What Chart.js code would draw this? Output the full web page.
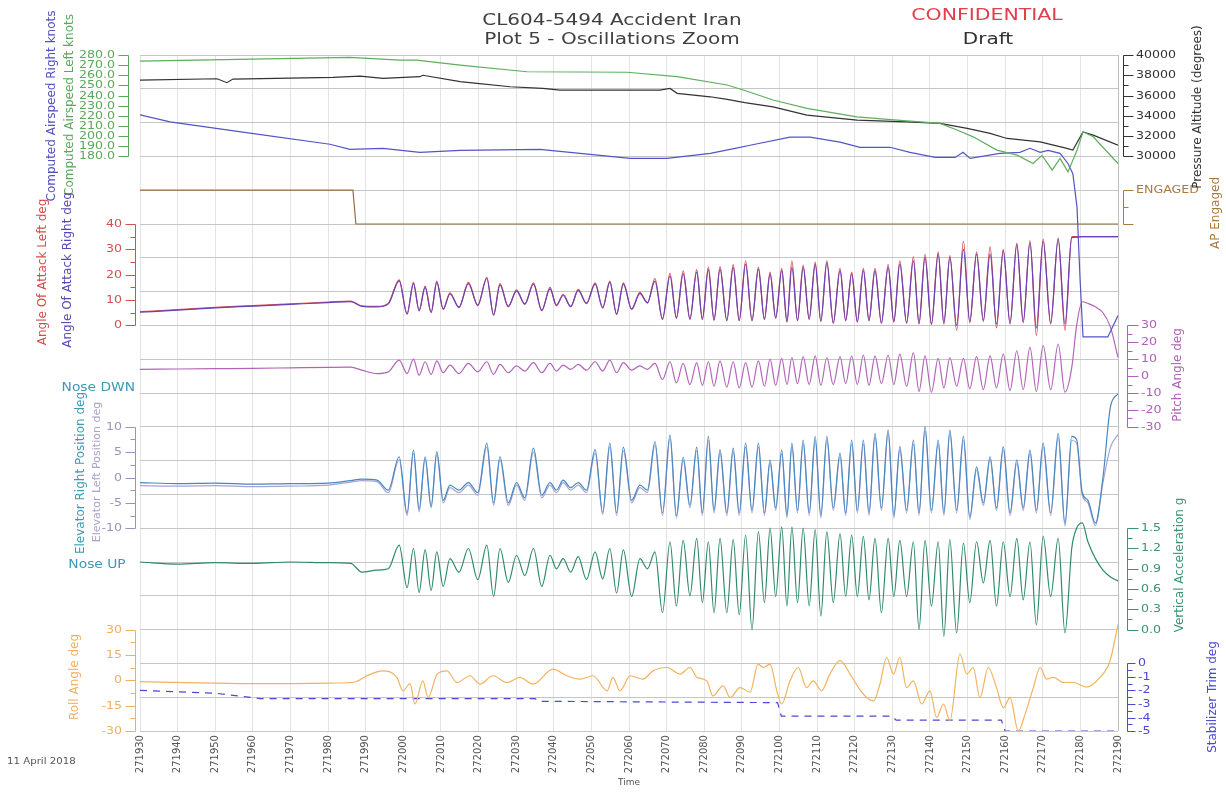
<!DOCTYPE html>
<html><head><meta charset="utf-8">
<script src="https://cdn.jsdelivr.net/npm/chart.js@4.4.1/dist/chart.umd.min.js"></script>
<style>html,body{margin:0;padding:0;background:#fff;}canvas{display:block;}</style>
</head><body>
<canvas id="c" width="1226" height="792"></canvas>
<script>
// ---------- X axis tick labels ----------
const xTickVals = [271930,271940,271950,271960,271970,271980,271990,272000,272010,272020,272030,272040,272050,272060,272070,272080,272090,272100,272110,272120,272130,272140,272150,272160,272170,272180,272190];

// ---------- Y axis tick labels ----------
const asTicks = [280,270,260,250,240,230,220,210,200,190,180];
const altTicks = [40000,38000,36000,34000,32000,30000];
const apTicks = [1,0];
const apTickLabels = ['ENGAGED',''];
const aoaTicks = [40,30,20,10,0];
const pitchTicks = [30,20,10,0,-10,-20,-30];
const elevTicks = [10,5,0,-5,-10];
const accTicks = [1.5,1.2,0.9,0.6,0.3,0.0];
const rollTicks = [30,15,0,-15,-30];
const stabTicks = [0,-1,-2,-3,-4,-5];

// ---------- Top panel (slow parameters) ----------
const asLTime = [271930,271985.8,271999.1,272003.6,272015.1,272032.9,272059.5,272072.8,272086.1,272090.8,
  272098.3,272107.3,272120.6,272131.3,272142.7,272147.2,272151.5,272157.8,272163.2,272167.4,
  272169.8,272172.5,272174.6,272176.7,272179.1,272180.7,272183.4,272190];
const asLVal = [274,277.7,275,275,270,263.5,263,258.6,250.4,245,
  235.6,227.4,219,215.8,212.5,206,199.3,186.2,181.2,173,
  181,166.4,178,164.7,186,204.3,199.3,173];

const asRTime = [271930,271938,271959.2,271980.5,271985.8,271994.6,272004.4,272015.1,272036.3,272052.3,
  272060.3,272070.1,272081.6,272088.2,272092.2,272102.8,272108.1,272116.1,272121.4,272129.4,
  272134.7,272141.4,272146.7,272148.8,272150.7,272158.6,272163.9,272166.6,272169.3,272171.4,
  272174.6,272176.7,272178.0,272179.1,272179.9,272180.7,272187.3,272190];
const asRVal = [221,214,203,192,187,188,184,186,187,181,
  178,178,183,188,191,199,199,194,189,189,
  184,179,179,184,178,183,184,188,184,186,
  183,173,163,130,60,2,2,23];

const altTime = [271930,271950.5,271953.1,271954.7,271981.3,271988.5,271994.6,272004.4,272005.2,272015.1,
  272019.6,272028.4,272037.1,272041.7,272068.2,272070.9,272072.8,272081.6,272086.1,272090.8,
  272098.3,272107.3,272120.6,272133.9,272142.7,272149.9,272156.0,272160.5,272169.3,272176.4,
  272178.0,272180.7,272183.4,272190];
const altVal = [37530,37660,37270,37630,37800,37920,37700,37860,38000,37370,
  37200,36870,36710,36540,36540,36700,36220,35880,35630,35300,
  34890,34070,33580,33410,33250,32760,32270,31770,31440,30790,
  30620,32420,32100,31100];

const apTime = [271930,271986.6,271987.4,272190];
const apVal = [1,1,0,0];

// ---------- Oscillation time base (pre, peak/trough pairs, end) ----------
const oscTime = [
  271930,271940,271950,271960,271970,271980,271986,271989,271993,271996,
  271998.9,272001.0,272002.7,272004.2,272005.8,272007.4,272008.9,272010.6,272012.4,272014.8,
  272017.3,272019.8,272022.2,272024.0,272025.7,272027.9,272030.1,272032.3,272034.6,272036.8,
  272039.0,272040.7,272042.5,272044.5,272046.5,272048.7,272051.0,272053.0,272054.9,272056.7,
  272058.5,272060.7,272062.9,272064.9,272066.9,272068.9,272070.9,272072.6,272074.4,272076.2,
  272078.0,272079.5,272081.1,272082.6,272084.2,272086.0,272087.7,272089.3,272091.0,272092.7,
  272094.4,272096.0,272097.5,272099.0,272100.6,272102.0,272103.3,272104.8,272106.3,272107.9,
  272109.5,272111.0,272112.6,272114.3,272116.1,272117.6,272119.2,272120.7,272122.3,272123.8,
  272125.4,272127.1,272128.9,272130.4,272132.0,272133.8,272135.6,272137.1,272138.7,272140.4,
  272142.2,272143.7,272145.3,272147.1,272148.9,272150.6,272152.4,272154.2,272156.0,272157.7,
  272159.5,272161.3,272163.1,272164.8,272166.6,272168.3,272170.1,272172.1,272174.1,272175.9,
  272177.7,272179.0,272180.5,272182,272184,272186,272188,272190];

const aoaRVal = [
  5.2,6.0,6.9,7.6,8.3,9.0,9.4,7.5,7.3,8.5,
  17.6,4.6,16.5,5.9,15.0,5.2,17.0,6.5,12.4,7.2,
  16.5,8.0,18.5,4.2,16.0,7.5,13.5,8.5,16.3,6.0,
  14.4,8.0,11.8,7.5,13.7,8.8,16.3,7.0,17.0,4.5,
  16.3,6.5,12.5,9.0,17.5,2.6,19.5,3.0,20.3,2.6,
  21.0,2.6,22.0,2.2,22.2,2.0,22.9,2.0,24.2,2.0,
  22.2,2.5,20.3,3.0,21.6,1.5,22.9,2.0,22.9,2.5,
  24.2,1.8,24.8,1.0,21.6,2.0,20.3,1.5,21.6,2.0,
  21.6,1.0,22.9,1.5,24.2,1.0,25.5,0.8,26.8,0.5,
  28.1,1.0,26.8,0.0,30.0,1.5,28.1,2.0,28.1,0.5,
  29.4,1.0,32.0,1.5,32.7,-1.0,33.3,1.0,34.0,0.5,
  34.6,34.8,35.0,35.0,35.0,35.0,35.0,35.0];

const aoaLVal = [
  5.4,6.2,7.1,7.8,8.5,9.2,9.6,7.7,7.5,8.7,
  18.0,4.4,17.0,5.7,15.5,5.0,17.5,6.3,12.8,7.0,
  17.0,7.8,19.0,4.0,16.5,7.3,14.0,8.3,16.8,5.8,
  15.0,7.8,12.3,7.3,14.2,8.6,16.8,6.8,17.5,4.3,
  16.8,6.3,13.0,8.8,18.5,2.3,20.5,2.8,21.5,2.3,
  22.0,2.3,23.0,2.0,23.2,1.8,24.0,1.8,25.5,1.8,
  23.0,2.3,21.0,2.8,22.5,1.3,25.5,1.8,23.8,2.3,
  25.0,1.5,25.5,0.8,22.5,1.8,21.0,1.3,22.5,1.8,
  22.5,0.8,24.0,1.3,25.5,0.8,27.0,0.5,28.0,0.3,
  29.0,0.5,27.5,-2.0,33.3,1.0,29.0,1.5,31.0,-1.0,
  30.0,0.5,32.5,1.0,33.5,-4.0,34.0,0.5,34.5,-2.0,
  35.0,35.0,35.0,35.0,35.0,35.0,35.0,35.0];

const pitchVal = [
  4.0,4.2,4.4,4.6,4.9,5.2,5.3,3.5,1.5,2.5,
  9.5,1.5,10.0,0.5,8.5,1.0,9.0,2.0,6.5,1.5,
  7.5,2.5,8.5,1.0,7.0,2.0,6.0,3.0,8.0,2.0,
  7.5,3.0,6.5,4.0,7.0,3.5,8.5,3.0,9.5,2.0,
  8.0,3.5,6.0,4.0,7.5,-2.0,8.5,-4.0,7.5,-5.0,
  8.0,-5.5,8.5,-6.0,9.0,-6.5,8.5,-7.0,8.0,-6.5,
  9.0,-6.0,10.0,-5.5,10.5,-5.0,11.0,-4.5,11.5,-5.0,
  12.0,-5.5,11.0,-5.0,11.5,-4.5,12.0,-5.0,12.5,-5.5,
  12.0,-4.5,12.5,-5.0,13.0,-6.0,13.7,-9.0,12.0,-9.5,
  10.5,-7.0,11.0,-6.0,10.5,-7.5,11.5,-8.0,12.0,-7.0,
  13.0,-8.5,15.0,-8.0,17.0,-9.0,18.0,-8.0,19.0,-9.5,
  5.0,30.0,44.0,43.0,41.0,37.5,29.0,11.0];

const elevRVal = [
  -1.0,-1.2,-1.1,-1.3,-1.2,-1.1,-0.6,-0.3,-0.5,-2.5,
  4.1,-7.1,5.4,-6.3,4.1,-5.7,5.1,-4.5,-1.5,-2.5,
  -1.0,-3.0,6.8,-5.0,4.1,-5.0,-1.0,-4.0,5.8,-3.5,
  -1.0,-2.5,-0.5,-2.0,-1.0,-2.5,5.5,-6.9,6.8,-7.0,
  6.0,-4.5,-1.5,-2.5,7.1,-7.0,8.4,-7.5,4.0,-5.5,
  6.0,-7.0,8.1,-6.5,5.5,-7.0,5.8,-7.0,6.8,-6.5,
  6.8,-7.0,3.5,-6.0,5.4,-7.5,6.8,-6.5,7.4,-7.0,
  8.1,-7.5,8.1,-6.0,4.8,-7.0,7.4,-6.5,7.4,-7.0,
  8.7,-6.0,9.4,-7.5,6.1,-6.5,7.4,-7.0,10.1,-6.5,
  7.4,-7.0,9.4,-6.5,8.1,-7.8,2.1,-5.0,4.1,-6.0,
  6.1,-7.0,3.5,-6.0,5.4,-6.5,6.8,-7.0,8.7,-9.1,
  8.1,7.5,-3.0,-4.5,-9.0,0.0,14.0,16.5];

const elevLVal = [
  -1.6,-1.7,-1.6,-1.8,-1.7,-1.5,-0.9,-0.6,-0.8,-3.0,
  3.5,-7.5,4.8,-6.8,3.6,-6.0,4.5,-5.0,-2.0,-3.0,
  -1.5,-3.5,6.0,-5.5,3.5,-5.5,-1.5,-4.5,5.0,-4.0,
  -1.5,-3.0,-1.0,-2.5,-1.5,-3.0,4.8,-7.3,6.0,-7.5,
  5.3,-5.0,-2.0,-3.0,6.4,-7.5,7.6,-8.0,3.4,-6.0,
  5.3,-7.5,7.3,-7.0,4.8,-7.5,5.1,-7.5,6.0,-7.0,
  6.0,-7.5,2.8,-6.5,4.7,-8.0,6.0,-7.0,6.6,-7.5,
  7.3,-8.0,7.3,-6.5,4.1,-7.5,6.6,-7.0,6.6,-7.5,
  7.9,-6.5,8.6,-8.0,5.4,-7.0,6.6,-7.5,9.2,-7.0,
  6.6,-7.5,8.6,-7.0,7.3,-8.3,1.5,-5.5,3.5,-6.5,
  5.4,-7.5,2.8,-6.5,4.7,-7.0,6.0,-7.5,7.9,-9.6,
  7.3,6.8,-3.5,-5.0,-9.5,-1.0,6.0,8.5];

const accVal = [
  1.0,0.97,0.99,0.98,1.0,0.99,0.98,0.85,0.88,0.9,
  1.25,0.62,1.2,0.55,1.18,0.58,1.15,0.64,1.05,0.85,
  1.2,0.74,1.25,0.49,1.2,0.7,1.1,0.8,1.2,0.64,
  1.1,0.9,1.05,0.85,1.08,0.74,1.15,0.75,1.2,0.54,
  1.18,0.49,1.05,0.9,1.15,0.25,1.3,0.35,1.32,0.5,
  1.35,0.4,1.3,0.25,1.35,0.25,1.33,0.22,1.4,0.0,
  1.45,0.40,1.5,0.49,1.52,0.35,1.52,0.40,1.5,0.35,
  1.48,0.20,1.45,0.40,1.42,0.49,1.4,0.49,1.38,0.44,
  1.35,0.25,1.35,0.49,1.32,0.49,1.3,0.0,1.32,0.35,
  1.3,-0.1,1.33,-0.05,1.28,0.40,1.3,0.69,1.32,0.35,
  1.3,0.49,1.35,0.44,1.3,0.07,1.38,0.49,1.35,-0.05,
  1.2,1.5,1.58,1.3,1.05,0.88,0.78,0.72];

// ---------- Roll & stabilizer ----------
const rollTime = [
  271930,271946,271962,271980.5,271987.2,271990.3,271994.6,271998.3,271999.9,272001.8,
  272003.1,272005.2,272006.6,272009.0,272011.6,272014.3,272017.7,272020.4,272023.8,272027.6,
  272031.0,272034.5,272039.8,272043.5,272047.0,272050.4,272054.2,272055.7,272057.6,272060.3,
  272063.7,272066.4,272070.1,272073.6,272076.2,272078.1,272080.7,272082.3,272085.0,272086.9,
  272089.5,272092.2,272094.3,272095.7,272097.5,272099.3,272100.6,272102.8,272105.0,272107.2,
  272109.0,272111.2,272113.4,272116.1,272118.8,272121.0,272123.2,272125.0,272126.7,272128.5,
  272130.3,272132.0,272133.8,272135.6,272137.8,272140.0,272141.8,272143.6,272145.3,272148.0,
  272149.8,272151.5,272153.3,272155.5,272157.7,272159.5,272161.3,272163.5,272165.3,272167.5,
  272169.3,272171.0,272172.8,272175.5,272178.1,272181.7,272185.2,272187.9,272190];
const rollVal = [
  -0.8,-1.5,-2.0,-1.6,-1.0,2.7,5.6,1.7,-6.2,-2.0,
  -14.0,-0.3,-10.2,3.7,5.6,-1.3,2.7,-2.3,2.7,-1.3,
  1.7,-2.3,6.6,2.7,0.7,2.7,-6.2,1.7,-6.2,2.7,
  0.7,5.6,7.6,3.7,7.6,1.7,-0.3,-9.2,-3.3,-10.2,
  -4.3,-7.0,9.6,7.6,9.6,-6.2,-14.0,-0.3,7.6,-4.3,
  -0.3,-6.2,3.7,11.6,3.7,-4.3,-10.2,-12.2,-2.3,13.5,
  3.7,13.5,-4.3,-0.3,-14.0,-6.2,-22.0,-14.0,-24.0,15.6,
  3.7,7.6,-10.2,7.6,-4.3,-16.2,-10.2,-30.0,-20.0,-4.3,
  7.6,0.7,1.7,-1.3,-1.3,-4.0,1.7,11.6,33.0];

const stabTime = [271930,271950,271962,272035,272036,272099.5,272100.5,272130,272131,272159,272160,272190];
const stabVal = [-2.0,-2.2,-2.6,-2.6,-2.8,-2.9,-3.9,-3.9,-4.2,-4.2,-5.0,-5.0];

// ---------- helpers ----------
Chart.defaults.font.family = "'DejaVu Sans', Verdana, sans-serif";
const NGRID = 20;
function band(vTop, iTop, vBot, iBot) {
  const s = (vTop - vBot) / (iBot - iTop);
  return { type: 'linear', display: false, min: vBot - (NGRID - iBot) * s, max: vTop + iTop * s };
}
function pts(t, v) { return t.map((x, i) => ({ x: x, y: v[i] })); }
function ds(label, t, v, axis, color, extra) {
  return Object.assign({ label, data: pts(t, v), yAxisID: axis, borderColor: color, backgroundColor: color,
    borderWidth: 1.2, pointRadius: 0, fill: false, tension: 0 }, extra || {});
}
const smooth = { cubicInterpolationMode: 'monotone' };

const C = {
  asL: '#5fae5f', asR: '#5454c8', alt: '#333333', ap: '#9c6c3c',
  aoaL: '#e04a4a', aoaR: '#6444bc', pitch: '#b264b8', elevR: '#4888c0', elevL: '#a4a4d4',
  acc: '#2f8a6c', roll: '#f2b25e', stab: '#4a4ad2'
};

const axisDefs = [
  { id: 'yAS', side: 'left', x: 128, len: 10, ticks: asTicks, fmt: v => v.toFixed(1), minor: false, color: '#5aa85a' },
  { id: 'yAOA', side: 'left', x: 135, len: 10, ticks: aoaTicks, fmt: v => String(v), minor: true, color: '#d45050' },
  { id: 'yElev', side: 'left', x: 135, len: 10, ticks: elevTicks, fmt: v => String(v), minor: true, color: '#9a94b8' },
  { id: 'yRoll', side: 'left', x: 135, len: 10, ticks: rollTicks, fmt: v => String(v), minor: true, color: '#f0b060' },
  { id: 'yAlt', side: 'right', x: 1123, len: 10, ticks: altTicks, fmt: v => String(v), minor: true, color: '#333333' },
  { id: 'yAP', side: 'right', x: 1123, len: 10, ticks: apTicks, fmt: (v, i) => apTickLabels[i], minor: true, color: '#a87a40' },
  { id: 'yPitch', side: 'right', x: 1127, len: 11, ticks: pitchTicks, fmt: v => String(v), minor: true, color: '#b060b8' },
  { id: 'yAcc', side: 'right', x: 1127, len: 11, ticks: accTicks, fmt: v => v.toFixed(1), minor: true, color: '#3a9470' },
  { id: 'yStab', side: 'right', x: 1127, len: 8, ticks: stabTicks, fmt: v => String(v), minor: true, color: '#4a4ad2' }
];

const sideTitles = [
  { text: 'Computed Airspeed Right knots', x: 52, y: 106, color: '#5050c0' },
  { text: 'Computed Airspeed Left knots', x: 70, y: 105, color: '#5aa85a' },
  { text: 'Angle Of Attack Left deg', x: 43, y: 272, color: '#d84a4a' },
  { text: 'Angle Of Attack Right deg', x: 68, y: 270, color: '#5a46b4' },
  { text: 'Elevator Right Position deg', x: 81, y: 473, color: '#3c9ab4' },
  { text: 'Elevator Left Position deg', x: 97, y: 472, color: '#aaa2ca', size: 11 },
  { text: 'Roll Angle deg', x: 75, y: 677, color: '#f0b060' },
  { text: 'Pressure Altitude (degrees)', x: 1198, y: 107, color: '#333333' },
  { text: 'AP Engaged', x: 1216, y: 213, color: '#a87a40' },
  { text: 'Pitch Angle deg', x: 1178, y: 375, color: '#b060b8' },
  { text: 'Vertical Acceleration g', x: 1180, y: 565, color: '#3a9470' },
  { text: 'Stabilizer Trim deg', x: 1213, y: 697, color: '#4a4ad2' }
];

function hText(ctx, text, x, y, align, font, color, sx) {
  ctx.save();
  ctx.translate(x, y);
  ctx.scale(sx || 1.2, 1);
  ctx.font = font; ctx.fillStyle = color; ctx.textAlign = align; ctx.textBaseline = 'middle';
  ctx.fillText(text, 0, 0);
  ctx.restore();
}

const decor = {
  id: 'decor',
  afterDraw(chart) {
    const ctx = chart.ctx;
    const ca = chart.chartArea;
    ctx.save();
    ctx.strokeStyle = '#bdbdbd'; ctx.lineWidth = 1;
    ctx.beginPath(); ctx.moveTo(Math.round(ca.right) + 0.5, ca.top); ctx.lineTo(Math.round(ca.right) + 0.5, ca.bottom); ctx.stroke();
    ctx.restore();
    axisDefs.forEach(d => {
      const s = chart.scales[d.id];
      const dir = d.side === 'left' ? -1 : 1;
      const ys = d.ticks.map(v => Math.round(s.getPixelForValue(v)) + 0.5);
      const y0 = Math.min(...ys), y1 = Math.max(...ys);
      ctx.save();
      ctx.strokeStyle = d.color; ctx.lineWidth = 1;
      ctx.beginPath();
      ctx.moveTo(d.x + 0.5, y0); ctx.lineTo(d.x + 0.5, y1);
      ys.forEach(y => { ctx.moveTo(d.x + 0.5, y); ctx.lineTo(d.x + 0.5 + dir * d.len, y); });
      if (d.minor) {
        for (let i = 1; i < d.ticks.length; i++) {
          const y = Math.round(s.getPixelForValue((d.ticks[i] + d.ticks[i - 1]) / 2)) + 0.5;
          ctx.moveTo(d.x + 0.5, y); ctx.lineTo(d.x + 0.5 + dir * 5, y);
        }
      }
      ctx.stroke();
      ctx.restore();
      d.ticks.forEach((v, i) => {
        const lbl = d.fmt(v, i);
        if (!lbl) return;
        hText(ctx, lbl, d.x + dir * (d.len + 3), ys[i], d.side === 'left' ? 'right' : 'left', '10.5px "DejaVu Sans"', d.color, 1.2);
      });
    });
    sideTitles.forEach(t => {
      ctx.save();
      ctx.translate(t.x, t.y);
      ctx.rotate(-Math.PI / 2);
      ctx.font = (t.size || 12) + 'px "DejaVu Sans"';
      ctx.fillStyle = t.color; ctx.textAlign = 'center'; ctx.textBaseline = 'middle';
      ctx.fillText(t.text, 0, 0);
      ctx.restore();
    });
    hText(ctx, 'CL604-5494 Accident Iran', 612, 21, 'center', '16px "DejaVu Sans"', '#404040', 1.25);
    hText(ctx, 'Plot 5 - Oscillations Zoom', 612, 40, 'center', '16px "DejaVu Sans"', '#404040', 1.25);
    hText(ctx, 'CONFIDENTIAL', 987, 16, 'center', '16px "DejaVu Sans"', '#e0404c', 1.28);
    hText(ctx, 'Draft', 988, 40, 'center', '16px "DejaVu Sans"', '#303030', 1.25);
    hText(ctx, 'Nose DWN', 135, 388, 'right', '11.5px "DejaVu Sans"', '#3c9ab4', 1.2);
    hText(ctx, 'Nose UP', 97, 565, 'center', '11.5px "DejaVu Sans"', '#3c9ab4', 1.2);
    hText(ctx, '11 April 2018', 7, 762, 'left', '8.5px "DejaVu Sans"', '#555555', 1.2);
  }
};

const chart = new Chart(document.getElementById('c'), {
  type: 'line',
  data: {
    datasets: [
      ds('Computed Airspeed Left knots', asLTime, asLVal, 'yAS', C.asL),
      ds('Computed Airspeed Right knots', asRTime, asRVal, 'yAS', C.asR),
      ds('Pressure Altitude', altTime, altVal, 'yAlt', C.alt),
      ds('AP Engaged', apTime, apVal, 'yAP', C.ap),
      ds('Angle Of Attack Right deg', oscTime, aoaRVal, 'yAOA', C.aoaR, smooth),
      ds('Angle Of Attack Left deg', oscTime, aoaLVal, 'yAOA', C.aoaL, smooth),
      ds('Pitch Angle deg', oscTime, pitchVal, 'yPitch', C.pitch, smooth),
      ds('Elevator Right Position deg', oscTime, elevRVal, 'yElev', C.elevR, smooth),
      ds('Elevator Left Position deg', oscTime, elevLVal, 'yElev', C.elevL, smooth),
      ds('Vertical Acceleration g', oscTime, accVal, 'yAcc', C.acc, smooth),
      ds('Roll Angle deg', rollTime, rollVal, 'yRoll', C.roll, smooth),
      ds('Stabilizer Trim deg', stabTime, stabVal, 'yStab', C.stab, { borderDash: [7, 6] })
    ]
  },
  options: {
    responsive: false,
    animation: false,
    events: [],
    layout: { padding: { left: 140, right: 108, top: 55, bottom: 4 } },
    plugins: { legend: { display: false }, tooltip: { enabled: false }, title: { display: false } },
    scales: {
      x: {
        type: 'linear', min: 271930, max: 272190,
        afterBuildTicks: s => { s.ticks = xTickVals.map(v => ({ value: v })); },
        ticks: { autoSkip: false, minRotation: 90, maxRotation: 90, padding: 4, color: '#555', font: { size: 10 }, callback: v => String(v) },
        grid: { color: '#e4e4e4', drawTicks: false },
        border: { display: false },
        title: { display: true, text: 'Time', color: '#555', font: { size: 9 }, padding: { top: 0, bottom: 0 } }
      },
      yg: {
        type: 'linear', position: 'left', min: 0, max: NGRID, reverse: true,
        afterBuildTicks: s => { s.ticks = Array.from({ length: NGRID + 1 }, (_, i) => ({ value: i })); },
        ticks: { display: false },
        grid: { color: '#c6c6c6', drawTicks: false },
        border: { display: false }
      },
      yAS: band(280, 0, 180, 3),
      yAlt: band(40000, 0, 30000, 3),
      yAP: band(1, 4, 0, 5),
      yAOA: band(40, 5, 0, 8),
      yPitch: band(30, 8, -30, 11),
      yElev: band(10, 11, -10, 14),
      yAcc: band(1.5, 14, 0, 17),
      yRoll: band(30, 17, -30, 20),
      yStab: band(0, 18, -5, 20)
    }
  },
  plugins: [decor]
});
</script>
</body></html>
